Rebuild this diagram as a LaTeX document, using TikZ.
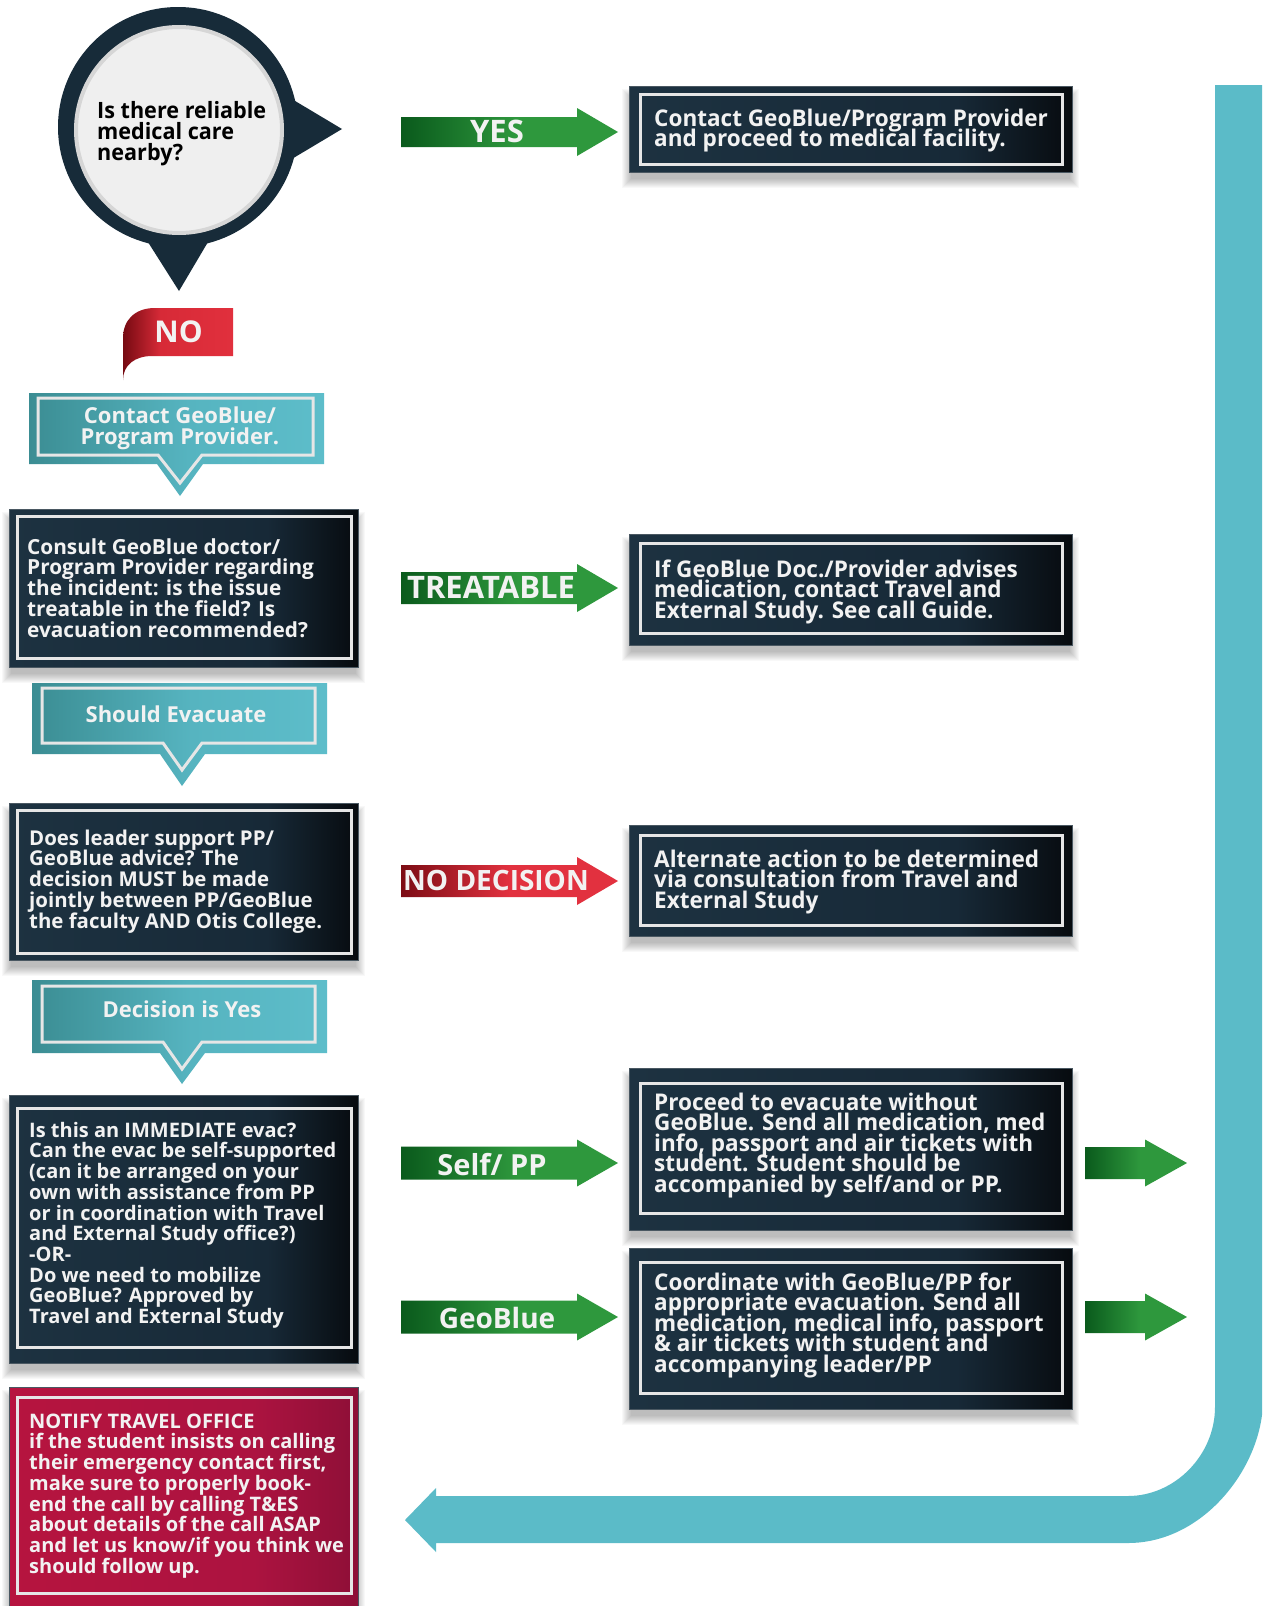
\documentclass[tikz,border=0pt]{standalone}
\usepackage{fontspec}
\setmainfont{Open Sans}
\newfontfamily\condf[FakeStretch=0.98]{Open Sans}
\newfontfamily\labf{Open Sans}
\newfontfamily\bubf[FakeStretch=0.96]{Open Sans}
\lineskiplimit=-100pt
\definecolor{darkA}{HTML}{1D3241}
\definecolor{darkB}{HTML}{172937}
\definecolor{darkC}{HTML}{070B0F}
\definecolor{tealA}{HTML}{3B8D93}
\definecolor{tealB}{HTML}{56B4C0}
\definecolor{tealC}{HTML}{5DBDCA}
\definecolor{redA}{HTML}{B6143F}
\definecolor{redB}{HTML}{AC1340}
\definecolor{redC}{HTML}{8E0F37}
\definecolor{grA}{HTML}{0A5A1C}
\definecolor{grB}{HTML}{2E983D}
\definecolor{ndA}{HTML}{7C0C14}
\definecolor{ndB}{HTML}{E2313F}
\definecolor{noA}{HTML}{760A12}
\definecolor{noB}{HTML}{D72A37}
\definecolor{noC}{HTML}{E1303D}
\definecolor{bdark}{HTML}{172B39}
\definecolor{light}{HTML}{EFEFEF}
\definecolor{band}{HTML}{5BBBC8}
\definecolor{txtw}{HTML}{F2F2F2}
\definecolor{boxline}{HTML}{E6E6E6}
\definecolor{boxedge}{HTML}{4A5862}
\pgfdeclarehorizontalshading{darkgrad}{100bp}{color(0bp)=(darkA); color(25bp)=(darkA); color(62bp)=(darkB); color(75bp)=(darkC); color(100bp)=(darkC)}
\pgfdeclarehorizontalshading{redgrad}{100bp}{color(0bp)=(redA); color(25bp)=(redA); color(60bp)=(redB); color(75bp)=(redC); color(100bp)=(redC)}
\pgfdeclarehorizontalshading{tealgrad}{100bp}{color(0bp)=(tealA); color(25bp)=(tealA); color(52bp)=(tealB); color(75bp)=(tealC); color(100bp)=(tealC)}
\pgfdeclarehorizontalshading{greengrad}{100bp}{color(0bp)=(grA); color(25bp)=(grA); color(52bp)=(grB); color(75bp)=(grB); color(100bp)=(grB)}
\pgfdeclarehorizontalshading{ndgrad}{100bp}{color(0bp)=(ndA); color(25bp)=(ndA); color(50bp)=(ndB); color(75bp)=(ndB); color(100bp)=(ndB)}
\pgfdeclarehorizontalshading{nograd}{100bp}{color(0bp)=(noA); color(25bp)=(noA); color(42bp)=(noB); color(75bp)=(noC); color(100bp)=(noC)}
\newcommand\firstl{\rule{0pt}{25pt}}
\def\boxshade{darkgrad}
% name, x1, y1, x2, y2, ix1, iy1, ix2, iy2
\newcommand\dbox[9]{%
  \foreach \k in {0,...,9}{\fill[black,opacity=0.028] ({#2-7+\k},{#3+3+\k}) rectangle ({#4+7-\k},{#5+16-\k});}
  \node[shade, shading=\boxshade, draw=boxedge, line width=0.8, inner sep=0, outer sep=0,
        minimum width={#4-#2}, minimum height={#5-#3}, anchor=north west] (#1) at (#2,#3) {};
  \draw[boxline, line width=3] (#6,#7) rectangle (#8,#9);
}
% name, x tail, x head base, x tip, y centre, body half, head half, shading
\newcommand\barrow[8]{%
  \shade[shading=#8] (#2,{#5-#6}) -- (#3,{#5-#6}) -- (#3,{#5-#7}) -- (#4,#5) -- (#3,{#5+#7}) -- (#3,{#5+#6}) -- (#2,{#5+#6}) -- cycle;
  \coordinate (#1) at ({(#2+#3)/2},#5);
}
\tikzset{
  lbt/.style={anchor=north west, inner sep=0, align=left, text=txtw, font=\fontsize{20}{20.7}\selectfont\bfseries},
  rbt/.style={anchor=north west, inner sep=0, align=left, text=txtw, font=\condf\fontsize{23}{20.5}\selectfont\bfseries},
  tct/.style={inner sep=0, align=center, text=txtw, font=\fontsize{22}{21.5}\selectfont\bfseries},
  alab/.style={anchor=base, inner sep=0, text=txtw, font=\labf\fontsize{#1}{#1}\selectfont\bfseries},
}
\begin{document}
\begin{tikzpicture}[x=1pt,y=-1pt]
\useasboundingbox (0,0) rectangle (1262,1606);
\fill[white] (0,0) rectangle (1262,1606);
\clip (0,0) rectangle (1262,1606);

% return band
\fill[band] (1215,85) -- (1263,85) -- (1263,1400) .. controls (1263,1465) and (1205,1543) .. (1128,1543)
  -- (436,1543) -- (436,1552) -- (405,1520) -- (436,1488) -- (436,1496) -- (1128,1496)
  .. controls (1175,1496) and (1215,1455) .. (1215,1407) -- cycle;
\coordinate (bandtop) at (1239,85);
\coordinate (bandtip) at (405,1520);

% question bubble
\fill[bdark] (270,86) -- (342,129) -- (270,172) -- cycle;
\fill[bdark] (134,220) -- (179,291) -- (221,220) -- cycle;
\node[circle, fill=bdark, inner sep=0, minimum size=240] (qring) at (178,127) {};
\node[circle, fill=light, inner sep=0, minimum size=210] (qin) at (179,130) {};
\draw[black, opacity=0.10, line width=4] (qin.center) circle (103);
\node[anchor=north west, inner sep=0, align=left, text=black, font=\bubf\fontsize{22.5}{21}\selectfont\bfseries] (qtext) at (97,93) {\firstl Is there reliable\\medical care\\nearby?};

% NO ribbon
\shade[shading=nograd] (123,380) -- (123,338) .. controls (123,320) and (135,308) .. (155,308) -- (233,308) -- (233,356)
  -- (152,356) .. controls (135,356) and (123,365) .. (123,380) -- cycle;
\node[anchor=base, inner sep=0, text=txtw, font=\labf\fontsize{30}{30}\selectfont\bfseries] (no) at (178.5,342) {NO};

% teal callouts
\shade[shading=tealgrad] (29,393) -- (324,393) -- (324,464) -- (203,464) -- (180,496) -- (157,464) -- (29,464) -- cycle;
\draw[boxline, line width=3] (38,398) -- (313,398) -- (313,455) -- (202,455) -- (180,483) -- (158,455) -- (38,455) -- cycle;
\node[tct, anchor=north] (c1) at (180,398) {\firstl Contact GeoBlue/\\Program Provider.};

\shade[shading=tealgrad] (32,683) -- (327,683) -- (327,754) -- (205,754) -- (182,786) -- (160,754) -- (32,754) -- cycle;
\draw[boxline, line width=3] (42,688) -- (315,688) -- (315,743) -- (202,743) -- (182,770) -- (163,743) -- (42,743) -- cycle;
\node[tct, anchor=base] (c2) at (176,722) {Should Evacuate};

\shade[shading=tealgrad] (32,980) -- (327,980) -- (327,1053) -- (205,1053) -- (182,1084) -- (160,1053) -- (32,1053) -- cycle;
\draw[boxline, line width=3] (42,986) -- (315,986) -- (315,1042) -- (202,1042) -- (182,1069) -- (163,1042) -- (42,1042) -- cycle;
\node[tct, anchor=base] (c3) at (182,1017) {Decision is Yes};

% left column boxes
\dbox{b1}{9}{509}{358}{667}{17}{516}{351}{658}
\node[lbt, font=\fontsize{20.8}{20.7}\selectfont\bfseries] (t1) at (27,529) {\firstl Consult GeoBlue doctor/\\Program Provider regarding\\the incident: is the issue\\treatable in the field? Is\\evacuation recommended?};

\dbox{b2}{9}{803}{358}{960}{17}{810}{351}{953}
\node[lbt, font=\fontsize{20.4}{20.7}\selectfont\bfseries] (t2) at (29,820) {\firstl Does leader support PP/\\GeoBlue advice? The\\decision MUST be made\\jointly between PP/GeoBlue\\the faculty AND Otis College.};

\dbox{b3}{9}{1095}{358}{1363}{17}{1108}{351}{1347}
\node[lbt] (t3) at (29,1112) {\firstl Is this an IMMEDIATE evac?\\Can the evac be self-supported\\(can it be arranged on your\\own with assistance from PP\\or in coordination with Travel\\and External Study office?)\\-OR-\\Do we need to mobilize\\GeoBlue? Approved by\\Travel and External Study};

\def\boxshade{redgrad}
\dbox{b4}{9}{1387}{358}{1620}{17}{1397}{351}{1593}
\node[lbt] (t4) at (29,1403) {\firstl NOTIFY TRAVEL OFFICE\\if the student insists on calling\\their emergency contact first,\\make sure to properly book-\\end the call by calling T\&ES\\about details of the call ASAP\\and let us know/if you think we\\should follow up.};

% right column boxes
\def\boxshade{darkgrad}
\dbox{rA}{629}{86}{1072}{172}{640}{94}{1062}{164}
\node[rbt] (tA) at (654,101) {\firstl Contact GeoBlue/Program Provider\\and proceed to medical facility.};

\dbox{rB}{629}{534}{1072}{645}{640}{543}{1062}{633}
\node[rbt] (tB) at (654,552) {\firstl If GeoBlue Doc./Provider advises\\medication, contact Travel and\\External Study. See call Guide.};

\dbox{rC}{629}{825}{1072}{936}{640}{835}{1062}{925}
\node[rbt] (tC) at (654,842) {\firstl Alternate action to be determined\\via consultation from Travel and\\External Study};

\dbox{rD}{629}{1068}{1072}{1230}{640}{1083}{1062}{1213}
\node[rbt] (tD) at (654,1085) {\firstl Proceed to evacuate without\\GeoBlue. Send all medication, med\\info, passport and air tickets with\\student. Student should be\\accompanied by self/and or PP.};

\dbox{rE}{629}{1248}{1072}{1409}{640}{1262}{1062}{1393}
\node[rbt] (tE) at (654,1265) {\firstl Coordinate with GeoBlue/PP for\\appropriate evacuation. Send all\\medication, medical info, passport\\\& air tickets with student and\\accompanying leader/PP};

% block arrows
\barrow{aYes}{401}{577}{618}{132}{15}{24}{greengrad}
\node[alab=31] (lYes) at (497,142) {YES};
\barrow{aTr}{401}{577}{618}{588}{16}{24}{greengrad}
\node[alab=31] (lTr) at (491,598) {TREATABLE};
\barrow{aNd}{401}{577}{618}{881}{16}{24}{ndgrad}
\node[alab=28] (lNd) at (496,890) {NO DECISION};
\barrow{aSelf}{401}{577}{618}{1163}{16.5}{23.5}{greengrad}
\node[alab=29] (lSelf) at (492,1175) {Self/ PP};
\barrow{aGeo}{401}{577}{618}{1317}{16.5}{23.5}{greengrad}
\node[alab=28] (lGeo) at (497,1328) {GeoBlue};
\barrow{aR1}{1085}{1145}{1187}{1163}{16}{23.5}{greengrad}
\barrow{aR2}{1085}{1145}{1187}{1317}{16}{23.5}{greengrad}
\end{tikzpicture}
\end{document}
